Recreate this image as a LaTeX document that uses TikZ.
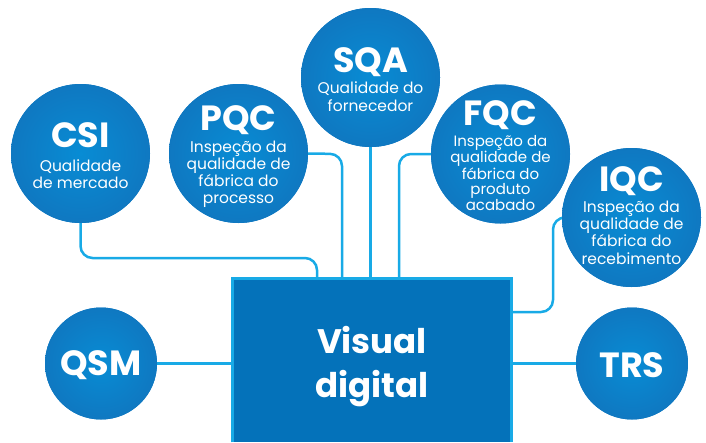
\documentclass[tikz,border=0pt]{standalone}
\usepackage{fontspec}
\setmainfont{Poppins}
\definecolor{cin}{RGB}{8,140,212}
\definecolor{cout}{RGB}{22,100,174}
\definecolor{rectfill}{RGB}{4,114,186}
\definecolor{cyanline}{RGB}{24,170,230}
\pgfdeclareradialshading{ballshade}{\pgfpoint{0bp}{0bp}}{color(0bp)=(cin); color(50bp)=(cout)}
\begin{document}
\begin{tikzpicture}[x=1pt,y=-1pt,
 ball/.style={circle, minimum size=139pt, inner sep=0pt, shading=ballshade},
 smallball/.style={ball, minimum size=112pt},
 conn/.style={draw=cyanline, line width=2.5pt, rounded corners=12pt},
 ttl/.style={text=white, font=\fontsize{35}{35}\selectfont\bfseries, anchor=base, inner sep=0pt},
 sub/.style={text=white, font=\fontsize{15.5}{#1}\selectfont, anchor=base, align=center, inner sep=0pt},
 big/.style={text=white, font=\fontsize{34}{44}\selectfont\bfseries, anchor=base, align=center, inner sep=0pt},
]
\useasboundingbox (0,0) rectangle (706,442);
% central box
\node[fill=rectfill, minimum width=279pt, minimum height=164pt, inner sep=0pt, anchor=north west] (vd) at (232,278) {};
\draw[cyanline, line width=3pt] (vd.south west) -- (vd.north west) -- (vd.north east) -- (vd.south east);
\node[big] (vdt) at (372,397) {Visual\\digital};
% circles
\node[ball] (csi) at (80.5,153.5) {};
\node[ball] (pqc) at (238.5,153.5) {};
\node[ball] (sqa) at (370.5,77.5) {};
\node[ball] (fqc) at (500.5,154) {};
\node[ball] (iqc) at (631.5,217.5) {};
\node[smallball] (qsm) at (101,363.5) {};
\node[smallball] (trs) at (632,363.5) {};
% bend points
\coordinate (b1) at (317,258);
\coordinate (b2) at (342,154);
\coordinate (b3) at (399,154);
\coordinate (b4) at (553,217.5);
\coordinate (b5) at (553,312);
% connectors
\draw[conn] (csi.south) |- (b1) -- (b1 |- vd.north);
\draw[conn] (pqc.east) -- (b2) -- (b2 |- vd.north);
\draw[conn] (sqa.south) -- (sqa.south |- vd.north);
\draw[conn] (fqc.west) -- (b3) -- (b3 |- vd.north);
\draw[conn] (iqc.west) -- (b4) -- (b5) -- (b5 -| vd.east);
\draw[conn] (qsm.east) -- (qsm.east -| vd.west);
\draw[conn] (trs.west) -- (trs.west -| vd.east);
% redraw circles on top
\node[ball] at (csi) {};
\node[ball] at (pqc) {};
\node[ball] at (sqa) {};
\node[ball] at (fqc) {};
\node[ball] at (iqc) {};
\node[smallball] at (qsm) {};
\node[smallball] at (trs) {};
% texts
\node[ttl] (csiT) at (80.5,147) {CSI};
\node[sub=16.5] (csiS) at (80.5,188) {Qualidade\\de mercado};
\node[ttl] (pqcT) at (238.5,130) {PQC};
\node[sub=17] (pqcS) at (238.5,203) {Inspeção da\\qualidade de\\fábrica do\\processo};
\node[ttl] (sqaT) at (370.5,72) {SQA};
\node[sub=18] (sqaS) at (370.5,111) {Qualidade do\\fornecedor};
\node[ttl] (fqcT) at (500.5,125) {FQC};
\node[sub=15.5, font=\fontsize{15}{15.5}\selectfont] (fqcS) at (500.5,210) {Inspeção da\\qualidade de\\fábrica do\\produto\\acabado};
\node[ttl] (iqcT) at (631.5,191) {IQC};
\node[sub=17.3] (iqcS) at (631.5,264) {Inspeção da\\qualidade de\\fábrica do\\recebimento};
\node[ttl] (qsmT) at (101,375) {QSM};
\node[ttl] (trsT) at (632,377) {TRS};
\end{tikzpicture}
\end{document}
